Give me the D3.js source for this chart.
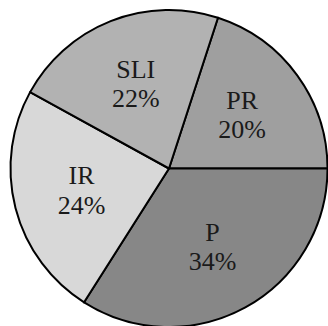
<!DOCTYPE html>
<html>
<head>
<meta charset="utf-8">
<script src="https://cdn.jsdelivr.net/npm/d3@7"></script>
<style>
  html, body { margin: 0; padding: 0; background: #fff; }
  svg { display: block; }
  text.lbl { font-family: "Liberation Serif", "Times New Roman", Times, "DejaVu Serif", serif; }
</style>
</head>
<body>
<svg id="chart" width="328" height="326"></svg>
<script>
// Slice categories, clockwise from the upper-right slice
const categories = ["PR", "P", "IR", "SLI"];
const values = [20, 34, 24, 22];
const fills = ["#9f9f9f", "#878787", "#d8d8d8", "#b2b2b2"];

const width = 328, height = 326;
const cx = 169, cy = 168.5, radius = 158.5;
const startDeg = 18;

const svg = d3.select("#chart");
const g = svg.append("g").attr("transform", `translate(${cx},${cy})`);

const pie = d3.pie()
  .sort(null)
  .value(d => d.value)
  .startAngle(startDeg * Math.PI / 180)
  .endAngle((startDeg + 360) * Math.PI / 180);

const data = categories.map((c, i) => ({ cat: c, value: values[i], fill: fills[i] }));
const arcs = pie(data);

const arc = d3.arc().innerRadius(0).outerRadius(radius);
const labelArc = d3.arc().innerRadius(radius * 0.57).outerRadius(radius * 0.57);

g.selectAll("path.slice")
  .data(arcs)
  .join("path")
  .attr("class", "slice")
  .attr("d", arc)
  .attr("fill", d => d.data.fill)
  .attr("stroke", "#000")
  .attr("stroke-width", 2)
  .attr("stroke-linejoin", "round");

const labels = g.selectAll("text.lbl")
  .data(arcs)
  .join("text")
  .attr("class", "lbl")
  .attr("transform", d => `translate(${labelArc.centroid(d)})`)
  .attr("text-anchor", "middle")
  .attr("font-size", 26)
  .attr("fill", "#1a1a1a");

labels.append("tspan")
  .attr("x", 0)
  .attr("dy", "-0.25em")
  .text(d => d.data.cat);

labels.append("tspan")
  .attr("x", 0)
  .attr("dy", "1.12em")
  .text(d => d.data.value + "%");
</script>
</body>
</html>
